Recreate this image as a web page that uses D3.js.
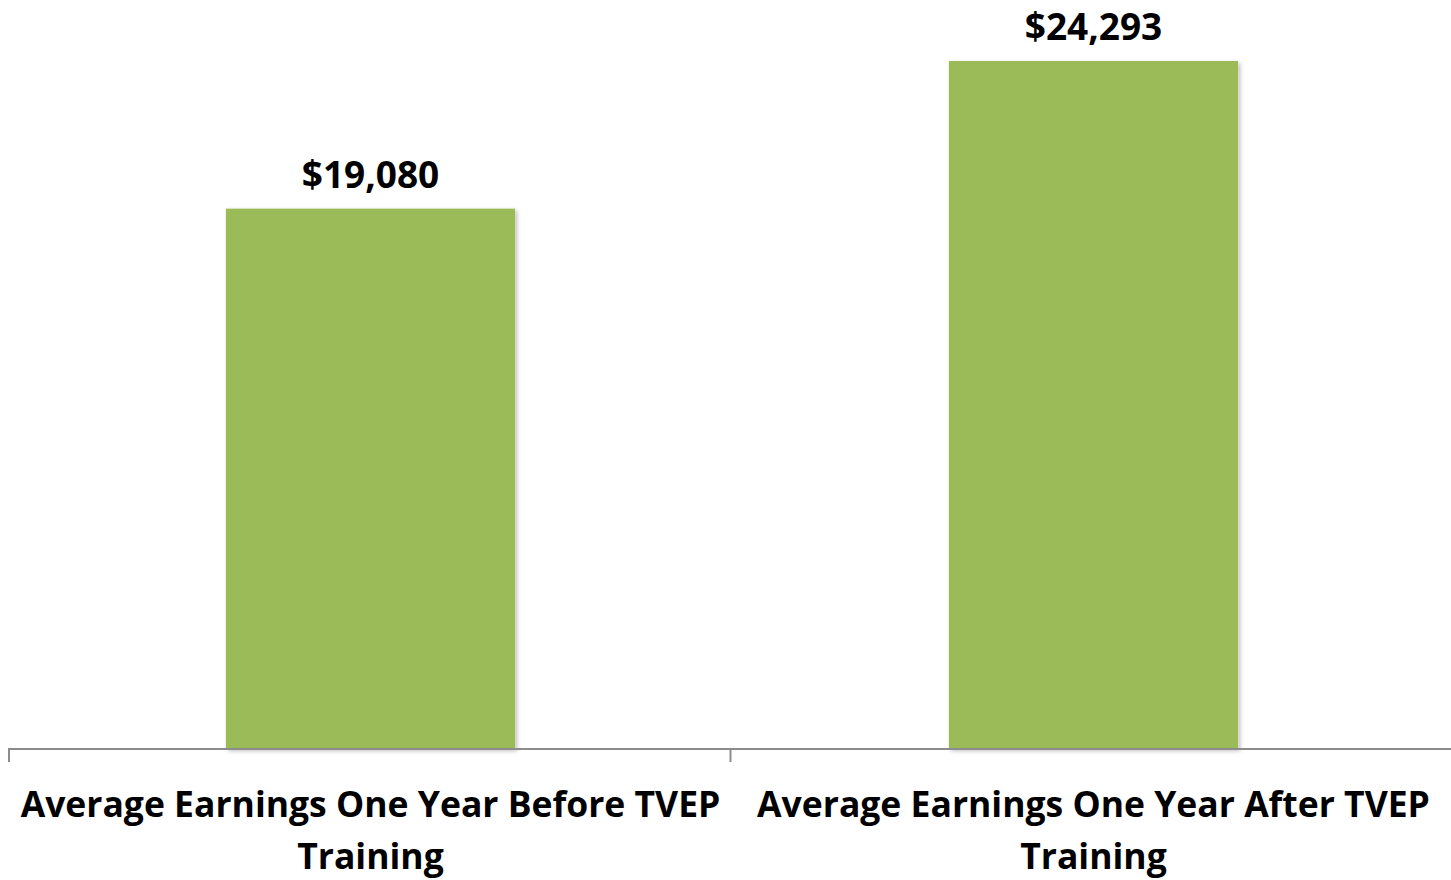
<!DOCTYPE html>
<html>
<head>
<meta charset="utf-8">
<script src="https://cdn.jsdelivr.net/npm/d3@7"></script>
<style>
  body { margin: 0; background: #fff; }
  text { font-family: "Open Sans", "Noto Sans", sans-serif; font-weight: bold; fill: #000; }
</style>
</head>
<body>
<svg width="1451" height="880"></svg>
<script>
var categories = [
  ["Average Earnings One Year Before TVEP", "Training"],
  ["Average Earnings One Year After TVEP", "Training"]
];
var values = [19080, 24293];

var width = 1451, height = 880;
var svg = d3.select("svg");

// shadow for bars
var defs = svg.append("defs");
var f = defs.append("filter").attr("id", "shadow").attr("x", "-10%").attr("y", "-10%").attr("width", "130%").attr("height", "130%");
f.append("feDropShadow").attr("dx", 2).attr("dy", 2).attr("stdDeviation", 2)
  .attr("flood-color", "#000").attr("flood-opacity", 0.25);

var x = d3.scaleBand()
    .domain(d3.range(categories.length))
    .range([9, 1455])
    .paddingInner(0.6)
    .paddingOuter(0.3);

var y = d3.scaleLinear()
    .domain([0, 24293])
    .range([749, 61]);

// bars
svg.selectAll("rect.bar")
  .data(values)
  .enter().append("rect")
  .attr("class", "bar")
  .attr("x", (d, i) => x(i))
  .attr("y", d => y(d))
  .attr("width", x.bandwidth())
  .attr("height", d => y(0) - y(d))
  .attr("fill", "#9bbb59")
  .attr("filter", "url(#shadow)");

// value labels
svg.selectAll("text.val")
  .data(values)
  .enter().append("text")
  .attr("class", "val")
  .attr("x", (d, i) => x(i) + x.bandwidth() / 2)
  .attr("y", d => y(d) - 21)
  .attr("text-anchor", "middle")
  .style("font-size", "37px")
  .text(d => "$" + d3.format(",")(d));

// axis
var step = (1451 - 8) / categories.length;
var axis = svg.append("g").attr("stroke", "#8c8c8c").attr("stroke-width", 2);
axis.append("line").attr("x1", 8).attr("x2", 1451).attr("y1", y(0)).attr("y2", y(0));
d3.range(categories.length + 1).forEach(function(i) {
  var tx = 9 + i * step;
  axis.append("line").attr("x1", tx).attr("x2", tx).attr("y1", y(0)).attr("y2", y(0) + 13);
});

// category labels
var labels = svg.selectAll("text.cat")
  .data(categories)
  .enter().append("text")
  .attr("class", "cat")
  .attr("text-anchor", "middle")
  .style("font-size", "35.5px")
  .attr("transform", (d, i) => "translate(" + (x(i) + x.bandwidth() / 2) + ",817)");
labels.selectAll("tspan")
  .data(d => d)
  .enter().append("tspan")
  .attr("x", 0)
  .attr("y", (d, j) => j * 52)
  .text(d => d);
</script>
</body>
</html>
